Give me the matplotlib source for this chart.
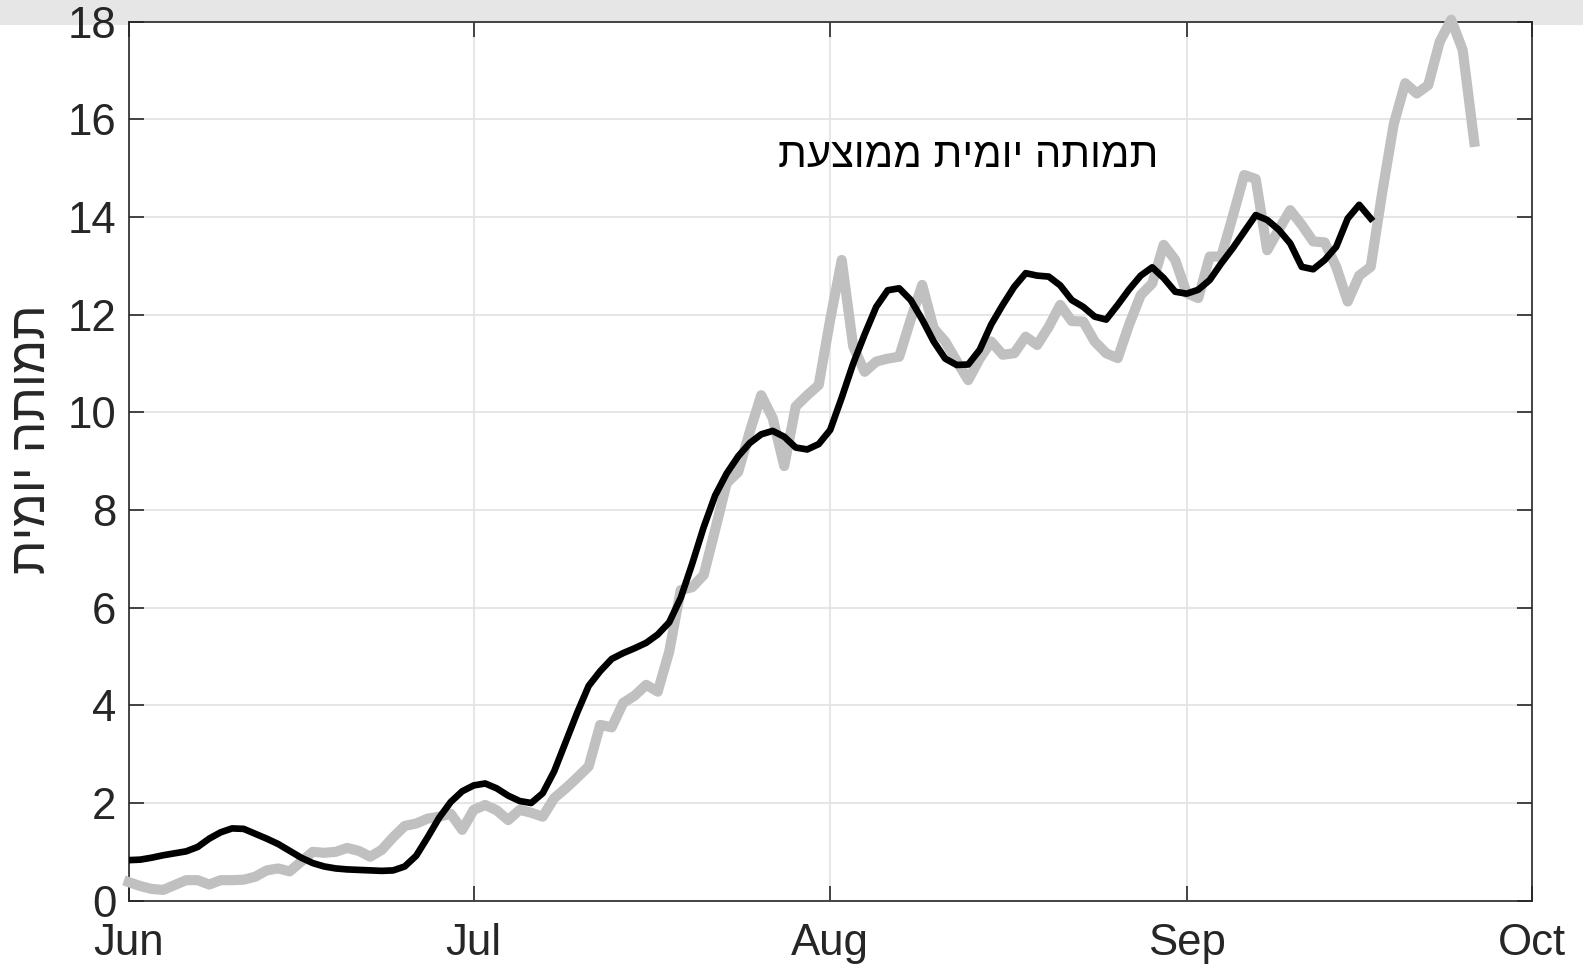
""" Daily deaths, Israel, Jun-Sep 2020 """

import numpy as np
import pandas as pd
import matplotlib
matplotlib.use('Agg')
import matplotlib.pyplot as plt
from matplotlib.patches import Rectangle

# -- Data

start = '2020-06-01'

daily = [0.38, 0.30, 0.24, 0.22, 0.32, 0.42, 0.42, 0.33, 0.42, 0.42,
         0.43, 0.49, 0.62, 0.66, 0.60, 0.80, 1.00, 0.98, 1.00, 1.08,
         1.02, 0.90, 1.04, 1.30, 1.53, 1.58, 1.68, 1.72, 1.78, 1.45,
         1.86, 1.96, 1.85, 1.65, 1.86, 1.80, 1.72, 2.10, 2.30, 2.52,
         2.75, 3.60, 3.55, 4.05, 4.20, 4.42, 4.28, 5.10, 6.36, 6.42,
         6.67, 7.60, 8.55, 8.78, 9.60, 10.35, 9.88, 8.90, 10.12, 10.35,
         10.56, 11.90, 13.12, 11.35, 10.83, 11.04, 11.10, 11.14, 11.90, 12.61,
         11.72, 11.45, 11.05, 10.66, 11.10, 11.45, 11.18, 11.21, 11.55, 11.38,
         11.75, 12.20, 11.87, 11.86, 11.45, 11.21, 11.11, 11.80, 12.40, 12.64,
         13.43, 13.12, 12.44, 12.34, 13.19, 13.19, 14.01, 14.86, 14.78, 13.32,
         13.74, 14.14, 13.84, 13.50, 13.48, 12.98, 12.27, 12.80, 12.98, 14.50,
         15.90, 16.74, 16.53, 16.70, 17.59, 18.04, 17.42, 15.54]

average = [0.83, 0.84, 0.88, 0.93, 0.97, 1.01, 1.10, 1.27, 1.40, 1.48,
           1.47, 1.37, 1.27, 1.16, 1.02, 0.88, 0.77, 0.70, 0.66, 0.64,
           0.63, 0.62, 0.61, 0.62, 0.70, 0.92, 1.30, 1.70, 2.02, 2.24,
           2.36, 2.40, 2.30, 2.15, 2.04, 2.00, 2.20, 2.65, 3.25, 3.85,
           4.40, 4.70, 4.95, 5.07, 5.17, 5.28, 5.45, 5.70, 6.20, 6.90,
           7.65, 8.30, 8.75, 9.10, 9.37, 9.55, 9.62, 9.50, 9.28, 9.24,
           9.35, 9.64, 10.30, 11.00, 11.60, 12.16, 12.50, 12.54, 12.30, 11.90,
           11.45, 11.10, 10.97, 10.98, 11.28, 11.80, 12.20, 12.57, 12.85, 12.80,
           12.78, 12.60, 12.30, 12.16, 11.96, 11.90, 12.20, 12.52, 12.80, 12.97,
           12.75, 12.47, 12.43, 12.51, 12.71, 13.05, 13.36, 13.70, 14.04, 13.94,
           13.74, 13.46, 12.98, 12.93, 13.12, 13.39, 13.97, 14.25, 13.97]

month_ticks = ['2020-06-01', '2020-07-01', '2020-08-01', '2020-09-01', '2020-10-01']
month_labels = ['Jun', 'Jul', 'Aug', 'Sep', 'Oct']
y_ticks = np.arange(0, 19, 2)

label_text = 'תמותה יומית'
note_text = 'תמותה יומית ממוצעת'
note_pos = ('2020-08-13', 15.25)

# -- Figure

plt.rcParams['font.family'] = ['Liberation Sans', 'DejaVu Sans']
ink = '#262626'

fig = plt.figure(figsize=(15.83, 9.64), dpi=100)
fig.patches.append(Rectangle((0, 1 - 25 / 964), 1, 25 / 964, transform=fig.transFigure,
                             facecolor='#e6e6e6', edgecolor='none', zorder=-1))
ax = fig.add_axes([0.0813, 0.0657, 0.8863, 0.9118])

t_daily = pd.date_range(start, periods=len(daily))
t_avg = pd.date_range(start, periods=len(average))

ax.plot(t_daily, daily, color='#c0c0c0', lw=7.3, clip_on=False, zorder=3)
ax.plot(t_avg, average, color='black', lw=4.8, zorder=4)

ax.set_xlim(pd.Timestamp(month_ticks[0]), pd.Timestamp(month_ticks[-1]))
ax.set_ylim(0, 18)
ax.set_xticks(pd.to_datetime(month_ticks))
ax.set_xticklabels(month_labels)
ax.set_yticks(y_ticks)

ax.grid(True, color='#e2e2e2', lw=1.2)
ax.set_axisbelow(True)
ax.tick_params(direction='in', length=10.5, width=1.2, colors=ink, labelsize=31.5,
               top=True, right=True)
ax.tick_params(axis='x', pad=16)
ax.tick_params(axis='y', pad=9)
for s in ax.spines.values():
    s.set_color(ink)
    s.set_linewidth(1.2)

# Hebrew: matplotlib has no bidi, so reverse the strings by hand
ax.set_ylabel(label_text[::-1], fontsize=36, color=ink)
ax.yaxis.set_label_coords(-0.0525, 0.525)
ax.text(pd.Timestamp(note_pos[0]), note_pos[1], note_text[::-1], fontsize=30,
        color='black', ha='center', va='center')

plt.savefig('out.png', dpi=100)
